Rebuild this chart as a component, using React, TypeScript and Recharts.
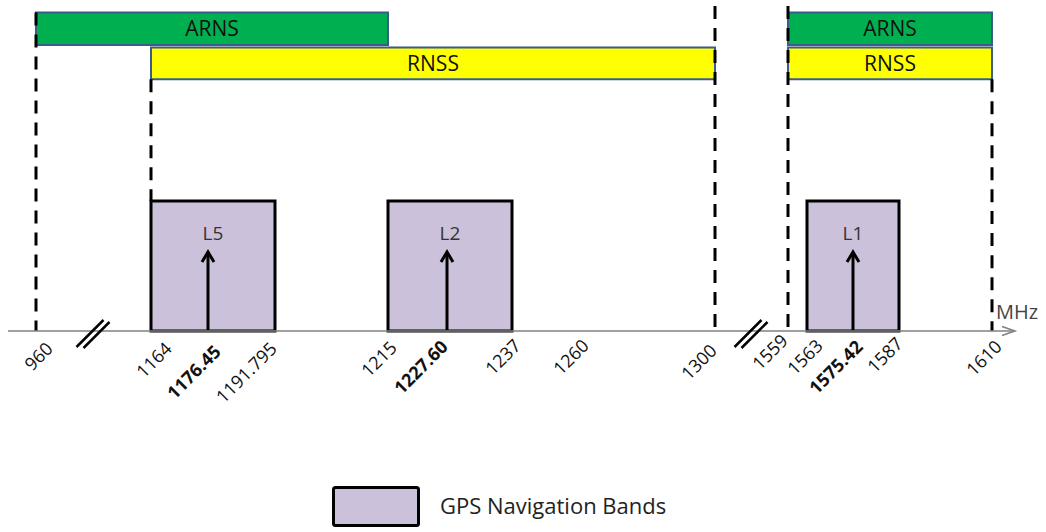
import React from 'react';
import {
  ComposedChart,
  XAxis,
  YAxis,
  ReferenceArea,
  ReferenceLine,
  ReferenceDot,
  Legend,
} from 'recharts';

// ---------- data ----------
const allocationNames = ['ARNS', 'RNSS', 'ARNS', 'RNSS'];
const allocationStart = [960, 1164, 1559, 1559];
const allocationEnd = [1215, 1300, 1610, 1610];

const navBandNames = ['L5', 'L2', 'L1'];
const navBandStart = [1164, 1215, 1563];
const navBandEnd = [1191.795, 1237, 1587];
const navCarrier = [1176.45, 1227.6, 1575.42];

const tickFreqs = [960, 1164, 1176.45, 1191.795, 1215, 1227.6, 1237, 1260, 1300, 1559, 1563, 1575.42, 1587, 1610];
const tickLabels = ['960', '1164', '1176.45', '1191.795', '1215', '1227.60', '1237', '1260', '1300', '1559', '1563', '1575.42', '1587', '1610'];
const boldTicks = ['1176.45', '1227.60', '1575.42'];

const edgeFreqs = [960, 1164, 1300, 1559, 1610];
const axisBreaks = [[960, 1164], [1300, 1559]];

// ---------- schematic (broken, non-linear) frequency axis ----------
// knot positions of the schematic axis, one per tick frequency
const AXIS_KNOTS = [28, 143, 200, 267, 380, 439, 504, 572, 707, 780, 799, 845, 891, 984];
const X_DOMAIN: [number, number] = [0, 1007];
const Y_DOMAIN: [number, number] = [0, 10];

const f2u = (f: number): number => {
  for (let i = 0; i < tickFreqs.length - 1; i++) {
    const a = tickFreqs[i];
    const b = tickFreqs[i + 1];
    if (f >= a && f <= b) {
      const t = (f - a) / (b - a);
      return AXIS_KNOTS[i] + t * (AXIS_KNOTS[i + 1] - AXIS_KNOTS[i]);
    }
  }
  return f < tickFreqs[0] ? AXIS_KNOTS[0] : AXIS_KNOTS[AXIS_KNOTS.length - 1];
};

// ---------- layout / style ----------
const W = 1046;
const H = 532;
const MARGIN = { top: 6, right: 31, bottom: 0, left: 8 };
const LANES: Record<string, [number, number]> = { ARNS: [8.8, 9.8], RNSS: [7.75, 8.72] };
const NAV_HEIGHT = 4;
const ARROW_HEIGHT = 2.43;
const EDGE_SPANS: Record<number, [number, number]> = {
  960: [0, 9.8],
  1164: [4, 7.75],
  1300: [0, 10],
  1559: [0, 10],
  1610: [0, 7.75],
};
const LABEL_NUDGE: Record<string, [number, number]> = {
  '960': [18, 19],
  '1164': [22, 19],
  '1176.45': [14, 22],
  '1191.795': [3, 19],
  '1215': [10, 18],
  '1227.60': [2, 17],
  '1237': [10, 16],
  '1260': [10, 16],
  '1300': [3, 21],
  '1559': [1, 11],
  '1563': [17, 16],
  '1575.42': [11, 17],
  '1587': [5, 14],
  '1610': [11, 17],
};
const COLORS: Record<string, string> = { ARNS: '#00B050', RNSS: '#FFFF00' };
const NAV_FILL = '#CCC1DA';
const BAND_STROKE = '#385D8A';
const AXIS_GRAY = '#808080';
const FONT = "'Open Sans', sans-serif";

// rotated frequency label, anchored at the tick position on the axis line
const BOX = 200;
const BASE = 16; // baseline offset inside an 18px line box
const makeTickLabel = (label: string) => (p: any) => {
  const [dx, dy] = LABEL_NUDGE[label] || [8, 18];
  const bx = Number(p.cx) + dx;
  const by = Number(p.cy) + dy;
  return (
    <foreignObject x={bx - BOX} y={by - BOX} width={BOX + 20} height={BOX + 20} style={{ overflow: 'visible' }}>
      <div
        style={{
          position: 'relative',
          width: BOX + 20,
          height: BOX + 20,
        }}
      >
        <div
          style={{
            position: 'absolute',
            left: 0,
            top: BOX - BASE,
            width: BOX,
            height: 18,
            lineHeight: '18px',
            fontSize: 18,
            fontFamily: FONT,
            fontWeight: boldTicks.includes(label) ? 700 : 400,
            color: '#111',
            textAlign: 'right',
            whiteSpace: 'nowrap',
            transformOrigin: `${BOX}px ${BASE}px`,
            transform: 'rotate(-45deg)',
          }}
        >
          {label}
        </div>
      </div>
    </foreignObject>
  );
};

const ArrowShape = (p: any) => {
  const { x1, y1, x2, y2 } = p;
  const top = Math.min(y1, y2);
  const bottom = Math.max(y1, y2);
  return (
    <g>
      <line x1={x1} y1={bottom} x2={x2} y2={top + 1} stroke="#000" strokeWidth={3} />
      <polyline
        points={`${x2 - 6},${top + 10} ${x2},${top} ${x2 + 6},${top + 10}`}
        fill="none"
        stroke="#000"
        strokeWidth={3}
      />
    </g>
  );
};

const BreakShape = (p: any) => {
  const { cx, cy } = p;
  const c = cy + 2;
  return (
    <g stroke="#000" strokeWidth={2.5}>
      <line x1={cx - 17} y1={c + 14} x2={cx + 10} y2={c - 13} />
      <line x1={cx - 10} y1={c + 15} x2={cx + 16} y2={c - 11} />
    </g>
  );
};

const AxisArrowShape = (p: any) => {
  const { cx, cy } = p;
  return (
    <polyline
      points={`${cx - 13},${cy - 4.5} ${cx},${cy} ${cx - 13},${cy + 4.5}`}
      fill="none"
      stroke={AXIS_GRAY}
      strokeWidth={1.5}
    />
  );
};

const LegendContent = () => (
  <svg width={W} height={56} style={{ display: 'block' }}>
    <rect x={333.5} y={11.5} width={85} height={38} rx={2} fill={NAV_FILL} stroke="#000" strokeWidth={3} />
    <text x={440} y={38} fontSize={22} fontFamily={FONT} fill="#222">
      GPS Navigation Bands
    </text>
  </svg>
);

const MHzLabel = (props: any) => {
  const vb = props.viewBox || {};
  return (
    <text x={vb.x + vb.width - 19} y={vb.y - 12} fontSize={20} fontFamily={FONT} fill="#444">
      MHz
    </text>
  );
};

export default function App() {
  const tickUnits = tickFreqs.map(f2u);
  return (
    <div style={{ position: 'absolute', left: 0, top: 0, width: W, height: H, background: '#fff', fontFamily: FONT }}>
      <ComposedChart width={W} height={H} margin={MARGIN} data={[]}>
        <XAxis
          type="number"
          dataKey="x"
          domain={X_DOMAIN}
          ticks={tickUnits}
          interval={0}
          tickLine={false}
          tick={false}
          height={145}
          axisLine={{ stroke: AXIS_GRAY, strokeWidth: 1.5 }}
          allowDataOverflow
          label={{ value: 'MHz', content: <MHzLabel /> }}
        />
        <YAxis type="number" domain={Y_DOMAIN} hide allowDataOverflow />
        <Legend
          verticalAlign="bottom"
          height={56}
          content={<LegendContent />}
          wrapperStyle={{ left: 0, width: W, height: 56 }}
        />

        {allocationNames.map((name, i) => (
          <ReferenceArea
            key={`alloc-${i}`}
            x1={f2u(allocationStart[i])}
            x2={f2u(allocationEnd[i])}
            y1={LANES[name][0]}
            y2={LANES[name][1]}
            fill={COLORS[name]}
            fillOpacity={1}
            stroke={BAND_STROKE}
            strokeWidth={2}
            ifOverflow="visible"
            label={{ value: name, position: 'center', fill: '#111', fontSize: 21, fontFamily: FONT }}
          />
        ))}

        {navBandNames.map((name, i) => (
          <ReferenceArea
            key={`nav-${i}`}
            x1={f2u(navBandStart[i])}
            x2={f2u(navBandEnd[i])}
            y1={0}
            y2={NAV_HEIGHT}
            fill={NAV_FILL}
            fillOpacity={1}
            stroke="#000"
            strokeWidth={3}
            ifOverflow="visible"
            label={{ value: name, position: 'insideTop', offset: 26, fill: '#333', fontSize: 19, fontFamily: FONT }}
          />
        ))}

        {edgeFreqs.map((f) => (
          <ReferenceLine
            key={`edge-${f}`}
            segment={[
              { x: f2u(f), y: EDGE_SPANS[f][1] },
              { x: f2u(f), y: EDGE_SPANS[f][0] },
            ]}
            stroke="#000"
            strokeWidth={3}
            strokeDasharray="13 9"
            ifOverflow="visible"
          />
        ))}

        {navCarrier.map((f) => (
          <ReferenceLine
            key={`arrow-${f}`}
            segment={[
              { x: f2u(f), y: 0 },
              { x: f2u(f), y: ARROW_HEIGHT },
            ]}
            stroke="#000"
            strokeWidth={3}
            ifOverflow="visible"
            shape={<ArrowShape />}
          />
        ))}

        {axisBreaks.map(([a, b]) => (
          <ReferenceDot
            key={`break-${a}`}
            x={(f2u(a) + f2u(b)) / 2}
            y={0}
            ifOverflow="visible"
            shape={<BreakShape />}
          />
        ))}

        {tickFreqs.map((f, i) => (
          <ReferenceDot
            key={`tick-${tickLabels[i]}`}
            x={f2u(f)}
            y={0}
            ifOverflow="visible"
            shape={makeTickLabel(tickLabels[i])}
          />
        ))}

        <ReferenceDot x={X_DOMAIN[1]} y={0} ifOverflow="visible" shape={<AxisArrowShape />} />
      </ComposedChart>
    </div>
  );
}
